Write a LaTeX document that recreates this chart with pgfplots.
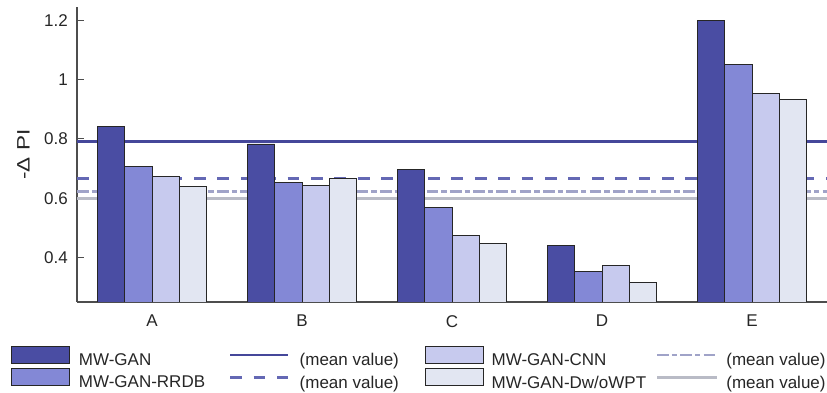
\documentclass[border=0pt]{standalone}
\usepackage{fontspec}
\setmainfont{Liberation Sans}
\usepackage{pgfplots}
\pgfplotsset{compat=1.18}
\definecolor{c1}{HTML}{4A4DA3}
\definecolor{c2}{HTML}{8388D6}
\definecolor{c3}{HTML}{C7CAEE}
\definecolor{c4}{HTML}{E2E6F2}
\definecolor{l1}{HTML}{45479A}
\definecolor{l2}{HTML}{6468B4}
\definecolor{l3}{HTML}{A0A3C8}
\definecolor{l4}{HTML}{B9BBC6}
\definecolor{axc}{HTML}{4D4D4D}
\newcommand{\fs}{\fontsize{17}{20}\selectfont}
\tikzset{
  dashA/.style={dash pattern=on 11.7pt off 11.7pt},
  dashB/.style={dash pattern=on 11.7pt off 3pt on 5.3pt off 3.3pt},
}
\begin{document}
\begin{tikzpicture}
\path[use as bounding box] (-77pt,-91pt) rectangle (750pt,302pt);
\begin{axis}[
  scale only axis, width=750pt, height=295pt,
  xmin=0.5, xmax=5.5, ymin=0.25, ymax=1.245,
  axis x line=bottom, axis y line=left,
  axis line style={axc, line width=1.1pt, -},
  xtick={1,2,3,4,5}, xticklabels={A,B,C,D,E},
  major x tick style={draw=none},
  ytick={0.4,0.6,0.8,1,1.2},
  yticklabels={0.4,0.6,0.8,1,1.2},
  tick align=inside, major tick length=7pt,
  major y tick style={axc, line width=1pt},
  tick label style={font=\fs, text=black!85},
  yticklabel style={inner sep=0pt, anchor=east, xshift=-9pt},
  xticklabel style={inner sep=0pt, anchor=north, yshift=-13pt},
  ylabel={\scalebox{1.25}[1]{\fontsize{18}{20}\selectfont -Δ PI}},
  ylabel style={text=black!85, at={(axis description cs:-0.0713,0.5)}, anchor=center, rotate=0},
  legend columns=4,
  legend style={draw=none, fill=none, font=\fs, text=black!85,
    at={(axis description cs:-0.088,-0.149)}, anchor=north west,
    column sep=0pt, row sep=1pt, inner sep=0pt, outer sep=0pt,
    nodes={inner sep=0pt}},
]
% mean lines
\addplot[forget plot, l1, line width=2.5pt] coordinates {(0.5,0.792) (5.5,0.792)};
\addplot[forget plot, l2, line width=2.8pt, dashA] coordinates {(0.5,0.667) (5.5,0.667)};
\addplot[forget plot, l3, line width=2.8pt, dashB] coordinates {(0.5,0.623) (5.5,0.623)};
\addplot[forget plot, l4, line width=2.8pt] coordinates {(0.5,0.600) (5.5,0.600)};
% bars
\addplot[forget plot, ybar, bar width=27.3pt, bar shift=-40.95pt, fill=c1, draw=black!85, line width=0.9pt]
  coordinates {(1,0.841) (2,0.783) (3,0.696) (4,0.441) (5,1.199)};
\addplot[forget plot, ybar, bar width=27.3pt, bar shift=-13.65pt, fill=c2, draw=black!85, line width=0.9pt]
  coordinates {(1,0.707) (2,0.652) (3,0.569) (4,0.354) (5,1.052)};
\addplot[forget plot, ybar, bar width=27.3pt, bar shift=13.65pt, fill=c3, draw=black!85, line width=0.9pt]
  coordinates {(1,0.674) (2,0.642) (3,0.474) (4,0.373) (5,0.952)};
\addplot[forget plot, ybar, bar width=27.3pt, bar shift=40.95pt, fill=c4, draw=black!85, line width=0.9pt]
  coordinates {(1,0.640) (2,0.666) (3,0.447) (4,0.315) (5,0.934)};
% legend
\addlegendimage{legend image code/.code={\draw[fill=c1, draw=black!85, line width=0.9pt] (0pt,-3pt) rectangle (58pt,14pt);}}
\addlegendentry{\makebox[159pt][l]{\hspace{9pt}MW-GAN}}
\addlegendimage{legend image code/.code={\draw[l1, line width=2.5pt] (0pt,5.5pt) -- (58pt,5.5pt);}}
\addlegendentry{\makebox[135pt][l]{\hspace{10pt}(mean value)}}
\addlegendimage{legend image code/.code={\draw[fill=c3, draw=black!85, line width=0.9pt] (0pt,-3pt) rectangle (58pt,14pt);}}
\addlegendentry{\makebox[172pt][l]{\hspace{8pt}MW-GAN-CNN}}
\addlegendimage{legend image code/.code={\draw[l3, line width=2.8pt, dashB] (0pt,5.5pt) -- (60pt,5.5pt);}}
\addlegendentry{\makebox[107pt][l]{\hspace{8pt}(mean value)}}
\addlegendimage{legend image code/.code={\draw[fill=c2, draw=black!85, line width=0.9pt] (0pt,-3pt) rectangle (58pt,14pt);}}
\addlegendentry{\makebox[159pt][l]{\hspace{9pt}MW-GAN-RRDB}}
\addlegendimage{legend image code/.code={\draw[l2, line width=2.8pt, dashA] (0pt,5.5pt) -- (58pt,5.5pt);}}
\addlegendentry{\makebox[135pt][l]{\hspace{10pt}(mean value)}}
\addlegendimage{legend image code/.code={\draw[fill=c4, draw=black!85, line width=0.9pt] (0pt,-3pt) rectangle (58pt,14pt);}}
\addlegendentry{\makebox[172pt][l]{\hspace{8pt}MW-GAN-Dw/oWPT}}
\addlegendimage{legend image code/.code={\draw[l4, line width=2.8pt] (0pt,5.5pt) -- (60pt,5.5pt);}}
\addlegendentry{\makebox[107pt][l]{\hspace{8pt}(mean value)}}
\end{axis}
\end{tikzpicture}
\end{document}
